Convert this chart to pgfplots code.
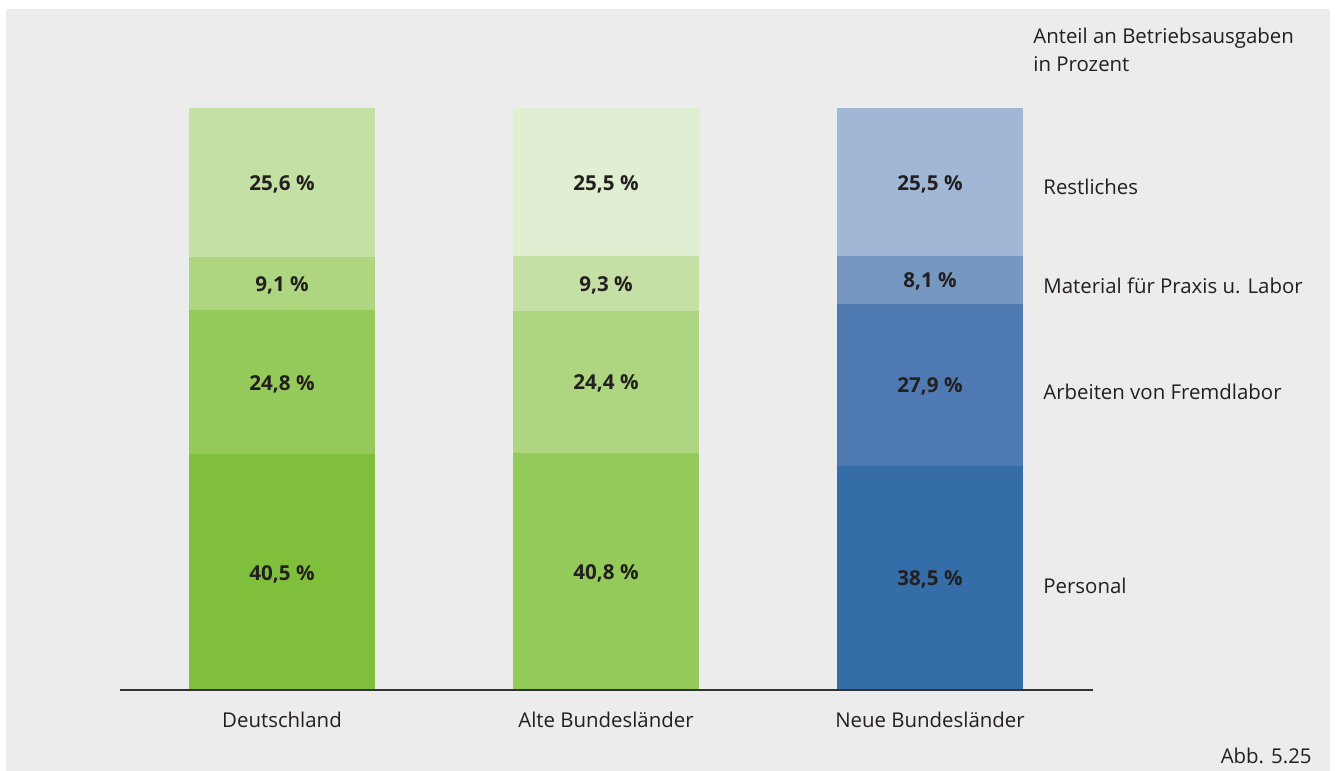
\documentclass[border=0pt]{standalone}
\usepackage{pgfplots}
\pgfplotsset{compat=1.18}
\usepackage{fontspec}
\setmainfont{Open Sans}
\definecolor{bg}{HTML}{ECECEC}
\definecolor{txt}{HTML}{231F20}
\definecolor{axisc}{HTML}{333333}
\definecolor{G1}{HTML}{80BF3C}
\definecolor{G2}{HTML}{94CA5A}
\definecolor{G3}{HTML}{AED580}
\definecolor{G4}{HTML}{C5E0A5}
\definecolor{G5}{HTML}{E0EED1}
\definecolor{B1}{HTML}{356DA8}
\definecolor{B2}{HTML}{4F7AB1}
\definecolor{B3}{HTML}{7697C2}
\definecolor{B4}{HTML}{A0B8D5}
\begin{document}
\begin{tikzpicture}[font=\fontsize{10.2}{12}\selectfont, text=txt,
  lbl/.style={anchor=base, yshift=-4pt, inner sep=0pt, font=\fontsize{10.3}{12}\selectfont\bfseries, text=txt}]
\fill[bg] (3pt,-4.5pt) rectangle (665pt,-385.5pt);
\path (0,0) rectangle (667.5pt,-385.5pt);
\begin{axis}[
  at={(60pt,-345pt)}, anchor=south west,
  scale only axis, width=486.5pt, height=291pt,
  xmin=120, xmax=1093, ymin=0, ymax=100,
  enlargelimits=false,
  ybar stacked, bar width=186,
  axis x line*=bottom, axis y line=none,
  ytick=\empty,
  xtick={282,606,930},
  xticklabels={Deutschland, Alte Bundesländer, Neue Bundesländer},
  major tick length=0pt,
  x axis line style={line width=0.75pt, color=axisc},
  xticklabel style={anchor=base, yshift=-18.5pt, inner sep=0pt, font=\fontsize{10.2}{12}\selectfont, text=txt},
  clip=false, axis on top,
]
% level 1
\addplot[fill=G1, draw=none] coordinates {(282,40.5) (606,0) (930,0)};
\addplot[fill=G2, draw=none] coordinates {(282,0) (606,40.8) (930,0)};
\addplot[fill=B1, draw=none] coordinates {(282,0) (606,0) (930,38.5)};
% level 2
\addplot[fill=G2, draw=none] coordinates {(282,24.8) (606,0) (930,0)};
\addplot[fill=G3, draw=none] coordinates {(282,0) (606,24.4) (930,0)};
\addplot[fill=B2, draw=none] coordinates {(282,0) (606,0) (930,27.9)};
% level 3
\addplot[fill=G3, draw=none] coordinates {(282,9.1) (606,0) (930,0)};
\addplot[fill=G4, draw=none] coordinates {(282,0) (606,9.3) (930,0)};
\addplot[fill=B3, draw=none] coordinates {(282,0) (606,0) (930,8.1)};
% level 4
\addplot[fill=G4, draw=none] coordinates {(282,25.6) (606,0) (930,0)};
\addplot[fill=G5, draw=none] coordinates {(282,0) (606,25.5) (930,0)};
\addplot[fill=B4, draw=none] coordinates {(282,0) (606,0) (930,25.5)};

\coordinate (a1) at (axis cs:282,20.25);
\coordinate (a2) at (axis cs:282,52.9);
\coordinate (a3) at (axis cs:282,69.85);
\coordinate (a4) at (axis cs:282,87.2);
\coordinate (b1) at (axis cs:606,20.4);
\coordinate (b2) at (axis cs:606,53.0);
\coordinate (b3) at (axis cs:606,69.85);
\coordinate (b4) at (axis cs:606,87.25);
\coordinate (c1) at (axis cs:930,19.25);
\coordinate (c2) at (axis cs:930,52.45);
\coordinate (c3) at (axis cs:930,70.45);
\coordinate (c4) at (axis cs:930,87.25);
\end{axis}
\node[lbl] at (a1) {40,5 \%};
\node[lbl] at (a2) {24,8 \%};
\node[lbl] at (a3) {9,1 \%};
\node[lbl] at (a4) {25,6 \%};
\node[lbl] at (b1) {40,8 \%};
\node[lbl] at (b2) {24,4 \%};
\node[lbl] at (b3) {9,3 \%};
\node[lbl] at (b4) {25,5 \%};
\node[lbl] at (c1) {38,5 \%};
\node[lbl] at (c2) {27,9 \%};
\node[lbl] at (c3) {8,1 \%};
\node[lbl] at (c4) {25,5 \%};
\begin{scope}[every node/.style={inner sep=0pt}]
\node[anchor=base west] at (516.5pt,-21.5pt) {Anteil an Betriebsausgaben};
\node[anchor=base west] at (516.5pt,-35.5pt) {in Prozent};
\node[anchor=base west] at (521.5pt,-97pt) {Restliches};
\node[anchor=base west] at (521.5pt,-146.5pt) {Material für Praxis u. Labor};
\node[anchor=base west] at (521.5pt,-199.5pt) {Arbeiten von Fremdlabor};
\node[anchor=base west] at (521.5pt,-296.5pt) {Personal};
\node[anchor=base east] at (656pt,-381.5pt) {Abb. 5.25};
\end{scope}
\end{tikzpicture}
\end{document}
